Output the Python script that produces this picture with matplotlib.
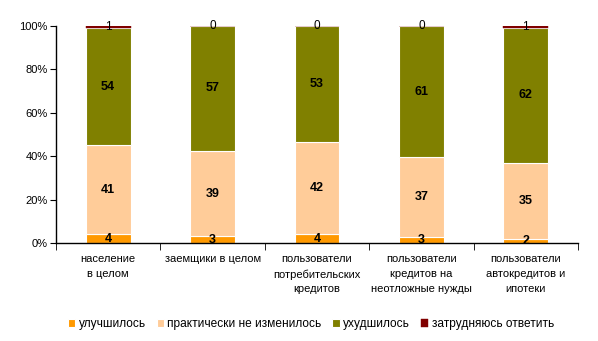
import matplotlib
matplotlib.use("Agg")
import matplotlib.pyplot as plt
import numpy as np

categories = ["население\nв целом", "заемщики в целом", "пользователи\nпотребительских\nкредитов",
              "пользователи\nкредитов на\nнеотложные нужды", "пользователи\nавтокредитов и\nипотеки"]
improved = [4, 3, 4, 3, 2]
unchanged = [41, 39, 42, 37, 35]
worsened = [54, 57, 53, 61, 62]
hard_to_say = [1, 0, 0, 0, 1]
series_names = ["улучшилось", "практически не изменилось", "ухудшилось", "затрудняюсь ответить"]
colors = ["#FF9900", "#FFCC99", "#808000", "#800000"]
yticks = [0, 20, 40, 60, 80, 100]

plt.rcParams['font.family'] = ['Liberation Sans', 'DejaVu Sans']

fig = plt.figure(figsize=(5.98, 3.41), dpi=100)
ax = fig.add_axes([56/598, 1 - 243/341, 522/598, 217/341])

data = np.array([improved, unchanged, worsened, hard_to_say], dtype=float)
totals = data.sum(axis=0)
shares = data / totals * 100
x = np.arange(len(categories))
bottom = np.zeros(len(categories))
for i, (vals, sh) in enumerate(zip(data, shares)):
    last = i == len(data) - 1
    ax.bar(x, sh, bottom=bottom, width=0.43, color=colors[i],
           edgecolor=colors[i] if last else "white",
           linewidth=0.3 if last else 0.8, label=series_names[i], zorder=2)
    for xi, v, s, b in zip(x, vals, sh, bottom):
        bold = i < 3
        ax.text(xi, b + s / 2, f"{int(v)}", ha="center", va="center",
                fontsize=9 if bold else 8.5, fontweight="bold" if bold else "normal",
                color="black", zorder=3)
    bottom += sh

ax.set_xlim(-0.5, len(categories) - 0.5)
ax.set_ylim(0, 100)
ax.set_yticks(yticks)
ax.set_yticklabels([f"{t}%" for t in yticks], fontsize=8)
ax.set_xticks(x)
ax.set_xticklabels(categories, fontsize=8, va="top", linespacing=1.6)
ax.tick_params(axis="x", length=0, pad=8)
ax.set_xticks(np.arange(len(categories) + 1) - 0.5, minor=True)
ax.tick_params(axis="x", which="minor", length=5, direction="out")
ax.tick_params(axis="y", length=4, direction="out", pad=2)
for side in ["top", "right"]:
    ax.spines[side].set_visible(False)
for side in ["left", "bottom"]:
    ax.spines[side].set_color("black")
    ax.spines[side].set_linewidth(1)

handles, labels = ax.get_legend_handles_labels()
fig.legend(handles, labels, loc="center", bbox_to_anchor=(0.52, 1 - 324/341), ncol=4,
           frameon=False, fontsize=8.6, handlelength=0.6, handleheight=0.6,
           handletextpad=0.3, columnspacing=0.9)

fig.savefig("out.png", dpi=100)
